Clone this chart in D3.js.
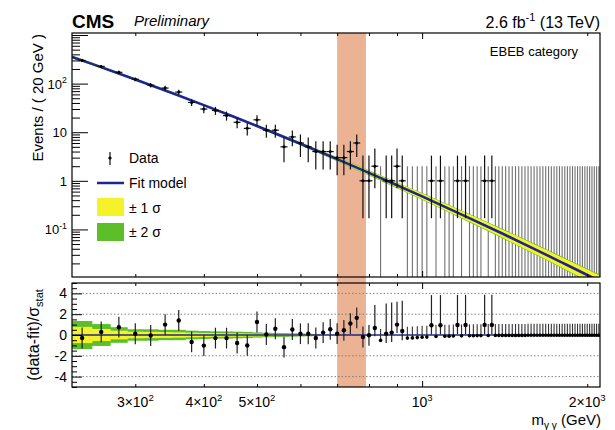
<!DOCTYPE html>
<html lang="en">
<head>
<meta charset="UTF-8">
<title>EBEB category</title>
<script src="https://d3js.org/d3.v7.min.js"></script>
<style>
  body { margin: 0; background: #fff; }
  svg { display: block; font-family: "Liberation Sans", Arial, Helvetica, sans-serif; }
</style>
</head>
<body>
<div id="chart"></div>
<script>
// ---- values ----
const binLo = 230, binW = 20           // 20 GeV bins, 230 -> 2110
const counts = [
  299, 226, 171, 123, 93, 81, 67, 41, 30, 28,
  22, 16, 12, 18, 11, 11, 5, 8, 6, 5,
  4, 4, 4, 3, 3, 4, 6, 1, 1, 2,
  0, 1, 1, 2, 1, 0, 0, 0, 0, 0,
  1, 0, 1, 0, 0, 0, 1, 0, 1, 0,
  0, 0, 0, 1, 0, 1, 0, 0, 0, 0,
  0, 0, 0, 0, 0, 0, 0, 0, 0, 0,
  0, 0, 0, 0, 0, 0, 0, 0, 0, 0,
  0, 0, 0, 0, 0, 0, 0, 0, 0, 0,
  0, 0, 0, 0
]
const pulls = [
  -0.29, 0.30, 0.75, 0.12, -0.05, 1.00, 1.40, -0.67, -1.02, -0.30,
  -0.30, -0.77, -1.00, 1.25, 0.05, 0.60, -1.17, 0.53, 0.12, 0.12,
  -0.29, 0.23, 0.55, 0.13, 0.45, 1.10, 1.65, -0.19, -0.03, 0.68,
  -0.52, 0.13, 0.23, 1.00, 0.39, -0.30, -0.28, -0.25, -0.22, -0.20,
  0.94, -0.15, 0.94, -0.12, -0.11, -0.10, 0.96, -0.08, 0.96, -0.07,
  -0.07, -0.06, -0.06, 0.97, -0.05, 0.97, -0.04, -0.04, -0.04, -0.04,
  -0.04, -0.04, -0.04, -0.04, -0.04, -0.04, -0.03, -0.03, -0.03, -0.03,
  -0.03, -0.03, -0.03, -0.03, -0.03, -0.03, -0.03, -0.03, -0.03, -0.03,
  -0.02, -0.02, -0.02, -0.02, -0.02, -0.02, -0.02, -0.02, -0.02, -0.02,
  -0.02, -0.02, -0.02, -0.02
]
// poisson-like error bars as drawn, for small counts
const poisLo = [0, 0.17, 0.7, 1.3, 1.7, 2.4, 3.1]
const poisHi = [2.0, 3.3, 4.6, 5.5, 6.5, 7.8, 9.0]
// pull error bars for small counts with an excess (in pull units)
const pullErrUp = [1.1, 2.9, 2.2]
const pullErrDn = [0, 0.9, 0.8]

// fit model (events / 20 GeV)
const fitMass = [230, 250, 300, 350, 400, 450, 500, 600, 700, 800, 900, 1000, 1200, 1400, 1600, 1800, 2000, 2110]
const fitVal = [354, 255, 122, 64.0, 36.1, 21.5, 13.4, 5.79, 2.79, 1.458, 0.813, 0.478, 0.186, 0.0823, 0.0399, 0.0208, 0.01155, 0.00852]
// band half widths (log10 units)
const sig1 = [0.022, 0.019, 0.015, 0.013, 0.013, 0.015, 0.018, 0.026, 0.035, 0.044, 0.053, 0.06, 0.072, 0.084, 0.094, 0.104, 0.113, 0.118]
const sig2 = [0.03, 0.026, 0.021, 0.018, 0.018, 0.02, 0.024, 0.033, 0.043, 0.053, 0.063, 0.071, 0.085, 0.098, 0.109, 0.12, 0.13, 0.136]
// bands in the ratio panel, first bins only
const pullBand1 = [0.78, 0.58, 0.42, 0.32, 0.30, 0.28, 0.26, 0.22, 0.20, 0.18, 0.17, 0.16, 0.15, 0.13, 0.12, 0.11, 0.10, 0.09, 0.08, 0.07, 0.06]
const pullBand2 = [1.35, 1.05, 0.75, 0.55, 0.55, 0.50, 0.50, 0.42, 0.38, 0.35, 0.34, 0.32, 0.30, 0.25, 0.22, 0.20, 0.18, 0.16, 0.14, 0.12, 0.10]

const signalWindow = [700, 790]
const xMinor = [300, 400, 500, 600, 700, 800, 900, 2000]
const xMajor = [1000]
const xLabels = [[300, '3×10', '2'], [400, '4×10', '2'], [500, '5×10', '2'], [1000, '10', '3'], [2000, '2×10', '3']]
const yLabels = [[0.1, '10', '-1'], [1, '1', ''], [10, '10', ''], [100, '10', '2']]
const pullLabels = [4, 2, 0, -2, -4]
const gridVals = [4, 2, -2, -4]

// ---- layout ----
const W = 615, H = 430
const L = 72, R = 600
const uTop = 33, uBot = 277, lTop = 283, lBot = 387
const blue = '#1c2890', yellow = '#f6f22a', green = '#5cbf2a'

const x = d3.scaleLog().domain([230, 2110]).range([L, R])
const yU = d3.scaleLog().domain([0.0105, 1100]).range([uBot, uTop])
const yL = d3.scaleLinear().domain([-5, 5]).range([lBot, lTop])

const svg = d3.select('#chart').append('svg').attr('width', W).attr('height', H)

svg.append('clipPath').attr('id', 'cu').append('rect')
  .attr('x', L).attr('y', uTop).attr('width', R - L).attr('height', uBot - uTop)
svg.append('clipPath').attr('id', 'cl').append('rect')
  .attr('x', L).attr('y', lTop).attr('width', R - L).attr('height', lBot - lTop)

// signal window across both panels
svg.append('rect')
  .attr('x', x(signalWindow[0])).attr('y', uTop)
  .attr('width', x(signalWindow[1]) - x(signalWindow[0]))
  .attr('height', lBot - uTop)
  .attr('fill', '#ebb394')

const bins = counts.map((n, i) => ({
  i, n, c: binLo + binW * (i + 0.5), lo: binLo + binW * i, hi: binLo + binW * (i + 1), p: pulls[i]
}))
const fit = fitMass.map((m, i) => ({ m, v: fitVal[i], s1: sig1[i], s2: sig2[i] }))

// ---- upper panel ----
const up = svg.append('g').attr('clip-path', 'url(#cu)')

// empty bins
up.selectAll('.zero').data(bins.filter(d => d.n === 0)).enter().append('line')
  .attr('class', 'zero')
  .attr('x1', d => x(d.c)).attr('x2', d => x(d.c))
  .attr('y1', uBot).attr('y2', yU(poisHi[0]))
  .attr('stroke', '#707070').attr('stroke-width', 1.1)

const band = s => d3.area()
  .x(d => x(d.m))
  .y0(d => yU(d.v * Math.pow(10, -d[s])))
  .y1(d => yU(d.v * Math.pow(10, d[s])))
  .curve(d3.curveMonotoneX)
up.append('path').datum(fit).attr('d', band('s2')).attr('fill', green)
up.append('path').datum(fit).attr('d', band('s1')).attr('fill', yellow)
up.append('path').datum(fit)
  .attr('d', d3.line().x(d => x(d.m)).y(d => yU(d.v)).curve(d3.curveMonotoneX))
  .attr('fill', 'none').attr('stroke', blue).attr('stroke-width', 2.6)

const filled = bins.filter(d => d.n > 0)
const eLo = d => d.n < poisLo.length ? poisLo[d.n] : d.n - Math.sqrt(d.n)
const eHi = d => d.n < poisHi.length ? poisHi[d.n] : d.n + Math.sqrt(d.n)
const dp = up.selectAll('.pt').data(filled).enter().append('g').attr('class', 'pt')
dp.append('line')
  .attr('x1', d => x(d.c)).attr('x2', d => x(d.c))
  .attr('y1', d => yU(eLo(d))).attr('y2', d => yU(eHi(d)))
  .attr('stroke', '#111').attr('stroke-width', 1.2)
dp.append('line')
  .attr('x1', d => x(d.c) - 3.5).attr('x2', d => x(d.c) + 3.5)
  .attr('y1', d => yU(d.n)).attr('y2', d => yU(d.n))
  .attr('stroke', '#111').attr('stroke-width', 1.2)
dp.append('circle').attr('cx', d => x(d.c)).attr('cy', d => yU(d.n)).attr('r', 1.5).attr('fill', '#000')

// ---- lower panel ----
const lo = svg.append('g').attr('clip-path', 'url(#cl)')

lo.selectAll('.grid').data(gridVals).enter().append('line')
  .attr('x1', L).attr('x2', R).attr('y1', d => yL(d)).attr('y2', d => yL(d))
  .attr('stroke', '#777').attr('stroke-width', 0.9).attr('stroke-dasharray', '1.5,2')

const bandBins = bins.slice(0, pullBand1.length)
lo.selectAll('.b2').data(bandBins).enter().append('rect')
  .attr('x', d => x(d.lo)).attr('width', d => x(d.hi) - x(d.lo) + 0.5)
  .attr('y', d => yL(pullBand2[d.i])).attr('height', d => yL(-pullBand2[d.i]) - yL(pullBand2[d.i]))
  .attr('fill', green)
lo.selectAll('.b1').data(bandBins).enter().append('rect')
  .attr('x', d => x(d.lo)).attr('width', d => x(d.hi) - x(d.lo) + 0.5)
  .attr('y', d => yL(pullBand1[d.i])).attr('height', d => yL(-pullBand1[d.i]) - yL(pullBand1[d.i]))
  .attr('fill', yellow)

lo.append('line').attr('x1', L).attr('x2', R).attr('y1', yL(0)).attr('y2', yL(0))
  .attr('stroke', blue).attr('stroke-width', 1.6)

const excess = d => d.n < pullErrUp.length && (d.n === 0 || d.p > 0)
const pUp = d => d.p + (excess(d) ? pullErrUp[d.n] : 1)
const pDn = d => d.p - (excess(d) ? pullErrDn[d.n] : 1)
const lp = lo.selectAll('.lp').data(bins).enter().append('g').attr('class', 'lp')
lp.append('line')
  .attr('x1', d => x(d.c)).attr('x2', d => x(d.c))
  .attr('y1', d => yL(pDn(d))).attr('y2', d => yL(pUp(d)))
  .attr('stroke', d => d.n === 0 ? '#333' : '#222').attr('stroke-width', d => d.n === 0 ? 1.1 : 1.2)
lp.append('circle').attr('cx', d => x(d.c)).attr('cy', d => yL(d.p))
  .attr('r', d => d.n === 0 ? 1.8 : 2.2).attr('fill', '#000')

// ---- frames and ticks ----
function ticks(axisFn, scale, vals, size, tx, ty) {
  const g = svg.append('g').attr('transform', `translate(${tx},${ty})`)
    .call(axisFn(scale).tickValues(vals).tickSize(size).tickFormat(''))
  g.select('.domain').remove()
  g.selectAll('line').attr('stroke', '#000').attr('stroke-width', 1)
}
const yUMinor = []
for (let e = -2; e <= 2; e++) for (let k = 2; k <= 9; k++) {
  const v = k * Math.pow(10, e)
  if (v > 0.0105 && v < 1100) yUMinor.push(v)
}
const yLMinor = d3.range(-5, 5.01, 0.5).filter(v => Math.abs(v % 2) > 0.01)

;[[uTop, uBot], [lTop, lBot]].forEach(([t, b]) => {
  ticks(d3.axisBottom, x, xMinor, -3, 0, b)
  ticks(d3.axisBottom, x, xMajor, -6, 0, b)
  ticks(d3.axisTop, x, xMinor, -3, 0, t)
  ticks(d3.axisTop, x, xMajor, -6, 0, t)
})
ticks(d3.axisLeft, yU, [0.1, 1, 10, 100, 1000], -16, L, 0)
ticks(d3.axisLeft, yU, yUMinor, -8, L, 0)
ticks(d3.axisLeft, yL, pullLabels, -10, L, 0)
ticks(d3.axisLeft, yL, yLMinor, -5, L, 0)

svg.append('rect').attr('x', L).attr('y', uTop).attr('width', R - L).attr('height', uBot - uTop)
  .attr('fill', 'none').attr('stroke', '#000').attr('stroke-width', 1.2)
svg.append('rect').attr('x', L).attr('y', lTop).attr('width', R - L).attr('height', lBot - lTop)
  .attr('fill', 'none').attr('stroke', '#000').attr('stroke-width', 1.2)

// ---- labels ----
function supText(g, base, sup, fs) {
  g.append('tspan').text(base)
  if (sup) g.append('tspan').text(sup).attr('font-size', fs * 0.68).attr('dy', -fs * 0.42)
}
yLabels.forEach(([v, b, s]) => {
  const t = svg.append('text').attr('x', 67).attr('y', yU(v) + 5)
    .attr('text-anchor', 'end').attr('font-size', 13)
  supText(t, b, s, 13)
})
pullLabels.forEach(v => {
  svg.append('text').attr('x', 67).attr('y', yL(v) + 5)
    .attr('text-anchor', 'end').attr('font-size', 14).text(v)
})
xLabels.forEach(([v, b, s]) => {
  const t = svg.append('text').attr('x', x(v)).attr('y', 407)
    .attr('text-anchor', 'middle').attr('font-size', 14)
  supText(t, b, s, 14)
})

const xt = svg.append('text').attr('x', 601).attr('y', 425).attr('text-anchor', 'end').attr('font-size', 15)
xt.append('tspan').text('m')
xt.append('tspan').text('γ γ').attr('font-size', 10).attr('dy', 4)
xt.append('tspan').text(' (GeV)').attr('dy', -4)

svg.append('text').attr('transform', `translate(43,34) rotate(-90)`)
  .attr('text-anchor', 'end').attr('font-size', 15).text('Events / ( 20 GeV )')

const yt = svg.append('text').attr('transform', `translate(39,335) rotate(-90)`)
  .attr('text-anchor', 'middle').attr('font-size', 16)
yt.append('tspan').text('(data-fit)/σ')
yt.append('tspan').text('stat').attr('font-size', 11).attr('dy', 4)

svg.append('text').attr('x', 72).attr('y', 28).attr('font-size', 19).attr('font-weight', 'bold').text('CMS')
svg.append('text').attr('x', 134).attr('y', 26).attr('font-size', 15).attr('font-style', 'italic').text('Preliminary')

const lumi = svg.append('text').attr('x', 600).attr('y', 28).attr('text-anchor', 'end').attr('font-size', 16)
lumi.append('tspan').text('2.6 fb')
lumi.append('tspan').text('-1').attr('font-size', 11).attr('dy', -7)
lumi.append('tspan').text(' (13 TeV)').attr('dy', 7)

svg.append('text').attr('x', 578).attr('y', 56).attr('text-anchor', 'end').attr('font-size', 13).text('EBEB category')

// ---- legend ----
const lg = svg.append('g')
lg.append('line').attr('x1', 110).attr('x2', 110).attr('y1', 152).attr('y2', 165).attr('stroke', '#111').attr('stroke-width', 1.2)
lg.append('circle').attr('cx', 110).attr('cy', 158).attr('r', 1.6).attr('fill', '#000')
lg.append('line').attr('x1', 97).attr('x2', 124).attr('y1', 183).attr('y2', 183).attr('stroke', blue).attr('stroke-width', 2.5)
lg.append('rect').attr('x', 97).attr('y', 198).attr('width', 27).attr('height', 18).attr('fill', yellow)
lg.append('rect').attr('x', 97).attr('y', 223).attr('width', 27).attr('height', 18).attr('fill', green)
;[['Data', 163], ['Fit model', 188], ['± 1 σ', 213], ['± 2 σ', 237]].forEach(([t, yy]) => {
  lg.append('text').attr('x', 129).attr('y', yy).attr('font-size', 14).text(t)
})
</script>
</body>
</html>
